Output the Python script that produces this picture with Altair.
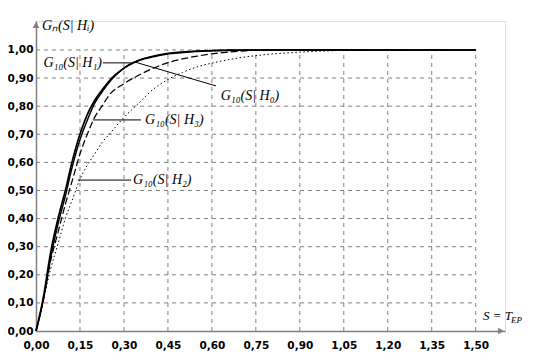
import altair as alt
import pandas as pd

# ---- data ----
S = [0, 0.025, 0.05, 0.075, 0.1, 0.125, 0.15, 0.175, 0.2, 0.225, 0.25, 0.3, 0.35,
     0.4, 0.45, 0.5, 0.55, 0.6, 0.7, 0.8, 0.9, 1.0, 1.05, 1.1, 1.2, 1.35, 1.5]
G_H1 = [0, 0.12, 0.28, 0.40, 0.50, 0.61, 0.70, 0.77, 0.82, 0.857, 0.89, 0.935, 0.962,
        0.976, 0.986, 0.991, 0.995, 0.997, 0.999, 1, 1, 1, 1, 1, 1, 1, 1]
G_H0 = [0, 0.11, 0.26, 0.38, 0.48, 0.59, 0.68, 0.75, 0.81, 0.85, 0.885, 0.935, 0.963,
        0.978, 0.988, 0.993, 0.996, 0.998, 1, 1, 1, 1, 1, 1, 1, 1, 1]
G_H3 = [0, 0.11, 0.25, 0.35, 0.45, 0.54, 0.63, 0.70, 0.76, 0.80, 0.84, 0.88, 0.91,
        0.935, 0.955, 0.968, 0.978, 0.986, 0.996, 1, 1, 1, 1, 1, 1, 1, 1]
G_H2 = [0, 0.11, 0.22, 0.31, 0.40, 0.47, 0.54, 0.59, 0.63, 0.67, 0.70, 0.76, 0.81,
        0.86, 0.895, 0.92, 0.94, 0.953, 0.973, 0.985, 0.992, 0.997, 0.999, 1, 1, 1, 1]

curve_names = ["H1", "H0", "H3", "H2"]
curve_values = [G_H1, G_H0, G_H3, G_H2]

x_ticks = [0, 0.15, 0.3, 0.45, 0.6, 0.75, 0.9, 1.05, 1.2, 1.35, 1.5]
y_ticks = [0, 0.1, 0.2, 0.3, 0.4, 0.5, 0.6, 0.7, 0.8, 0.9, 1.0]

# curve labels: text, text anchor (x, y), pointer start / end, alignment
lab_text = ["G₁₀(S| H₁)", "G₁₀(S| H₀)", "G₁₀(S| H₃)", "G₁₀(S| H₂)"]
lab_x = [0.225, 0.63, 0.372, 0.331]
lab_y = [0.954, 0.836, 0.751, 0.537]
lab_align = ["right", "left", "left", "left"]
ptr_x1 = [0.228, 0.3375, 0.194, 0.143]
ptr_y1 = [0.954, 0.957, 0.751, 0.537]
ptr_x2 = [0.331, 0.614, 0.358, 0.324]
ptr_y2 = [0.954, 0.872, 0.751, 0.537]

# ---- tables ----
rows = []
for name, vals in zip(curve_names, curve_values):
    for s, g in zip(S, vals):
        rows.append({"S": s, "G": g, "curve": name})
df = pd.DataFrame(rows)

vgrid = pd.DataFrame({"x": x_ticks[1:], "y0": [0] * 10, "y1": [1] * 10})
hgrid = pd.DataFrame({"y": y_ticks[1:], "x0": [0] * 10, "x1": [1.5] * 10})
labels = pd.DataFrame({"t": lab_text, "x": lab_x, "y": lab_y, "align": lab_align})
ptrs = pd.DataFrame({"x1": ptr_x1, "y1": ptr_y1, "x2": ptr_x2, "y2": ptr_y2})

W, H = 469, 310
xs = alt.Scale(domain=[0, 1.6], nice=False, zero=False)
ys = alt.Scale(domain=[0, 1.103], nice=False, zero=False)

label_expr = "replace(format(datum.value, '.2f'), '.', ',')"
xaxis = alt.Axis(values=x_ticks, labelExpr=label_expr, title=None, grid=False,
                 ticks=False, domainColor="#808080", domainWidth=1.5,
                 labelFont="DejaVu Sans", labelFontWeight="bold", labelFontSize=10.5,
                 labelColor="black", labelPadding=9, labelOverlap=False, labelFlush=False)
yaxis = alt.Axis(values=y_ticks, labelExpr=label_expr, title=None, grid=False,
                 ticks=False, domainColor="#808080", domainWidth=1.5,
                 labelFont="DejaVu Sans", labelFontWeight="bold", labelFontSize=10.5,
                 labelColor="black", labelPadding=3, labelOverlap=False, labelFlush=False)

grid_v = alt.Chart(vgrid).mark_rule(color="#808080", strokeDash=[4, 4], strokeWidth=1).encode(
    x=alt.X("x:Q", scale=xs, axis=xaxis),
    y=alt.Y("y0:Q", scale=ys, axis=yaxis),
    y2="y1:Q",
)
grid_h = alt.Chart(hgrid).mark_rule(color="#808080", strokeDash=[4, 4], strokeWidth=1).encode(
    y=alt.Y("y:Q", scale=ys, axis=yaxis),
    x=alt.X("x0:Q", scale=xs, axis=xaxis),
    x2="x1:Q",
)

lines = alt.Chart(df).mark_line(color="black", interpolate="monotone").encode(
    x=alt.X("S:Q", scale=xs, axis=xaxis),
    y=alt.Y("G:Q", scale=ys, axis=yaxis),
    detail="curve:N",
    strokeDash=alt.StrokeDash("curve:N", legend=None,
                              scale=alt.Scale(domain=curve_names,
                                              range=[[1, 0], [1, 0], [7, 3], [1.5, 2.5]])),
    strokeWidth=alt.StrokeWidth("curve:N", legend=None,
                                scale=alt.Scale(domain=curve_names, range=[1.7, 1, 1.3, 1.4])),
)

pointers = alt.Chart(ptrs).mark_rule(color="black", strokeWidth=1).encode(
    x=alt.X("x1:Q", scale=xs, axis=xaxis), y=alt.Y("y1:Q", scale=ys, axis=yaxis),
    x2="x2:Q", y2="y2:Q",
)

label_font = "Liberation Serif"
txt_left = alt.Chart(labels).transform_filter("datum.align == 'left'").mark_text(
    align="left", baseline="middle", font=label_font, fontSize=14, fontStyle="italic", color="black"
).encode(x=alt.X("x:Q", scale=xs, axis=xaxis), y=alt.Y("y:Q", scale=ys, axis=yaxis), text="t:N")
txt_right = alt.Chart(labels).transform_filter("datum.align == 'right'").mark_text(
    align="right", baseline="middle", font=label_font, fontSize=14, fontStyle="italic", color="black"
).encode(x=alt.X("x:Q", scale=xs, axis=xaxis), y=alt.Y("y:Q", scale=ys, axis=yaxis), text="t:N")

arrow_x = alt.Chart(pd.DataFrame({"a": [0]})).mark_point(
    shape="triangle-right", filled=True, color="#808080", opacity=1, size=45
).encode(x=alt.value(W - 4), y=alt.value(H))
arrow_y = alt.Chart(pd.DataFrame({"a": [0]})).mark_point(
    shape="triangle-up", filled=True, color="#808080", opacity=1, size=45
).encode(x=alt.value(0), y=alt.value(4))

ytitle = alt.Chart(pd.DataFrame({"t": ["Gₙ(S| Hᵢ)"]})).mark_text(
    align="left", baseline="middle", font=label_font, fontSize=14, fontStyle="italic", color="black"
).encode(x=alt.value(6), y=alt.value(5), text="t:N")
xtitle = alt.Chart(pd.DataFrame({"t": ["S = T"]})).mark_text(
    align="left", baseline="middle", font=label_font, fontSize=13, fontStyle="italic", color="black"
).encode(x=alt.value(447), y=alt.value(295), text="t:N")
xtitle_sub = alt.Chart(pd.DataFrame({"t": ["EP"]})).mark_text(
    align="left", baseline="middle", font=label_font, fontSize=9, fontStyle="italic", color="black"
).encode(x=alt.value(475), y=alt.value(299), text="t:N")

chart = alt.layer(
    grid_v, grid_h, lines, pointers, txt_left, txt_right, arrow_x, arrow_y, ytitle, xtitle, xtitle_sub
).properties(
    width=W, height=H,
    autosize=alt.AutoSizeParams(type="none"),
    padding={"left": 28, "top": 13, "right": 20, "bottom": 25},
).configure_view(stroke=None).configure(background="white")

chart.save("out.html", embed_options={"renderer": "svg", "actions": False})
